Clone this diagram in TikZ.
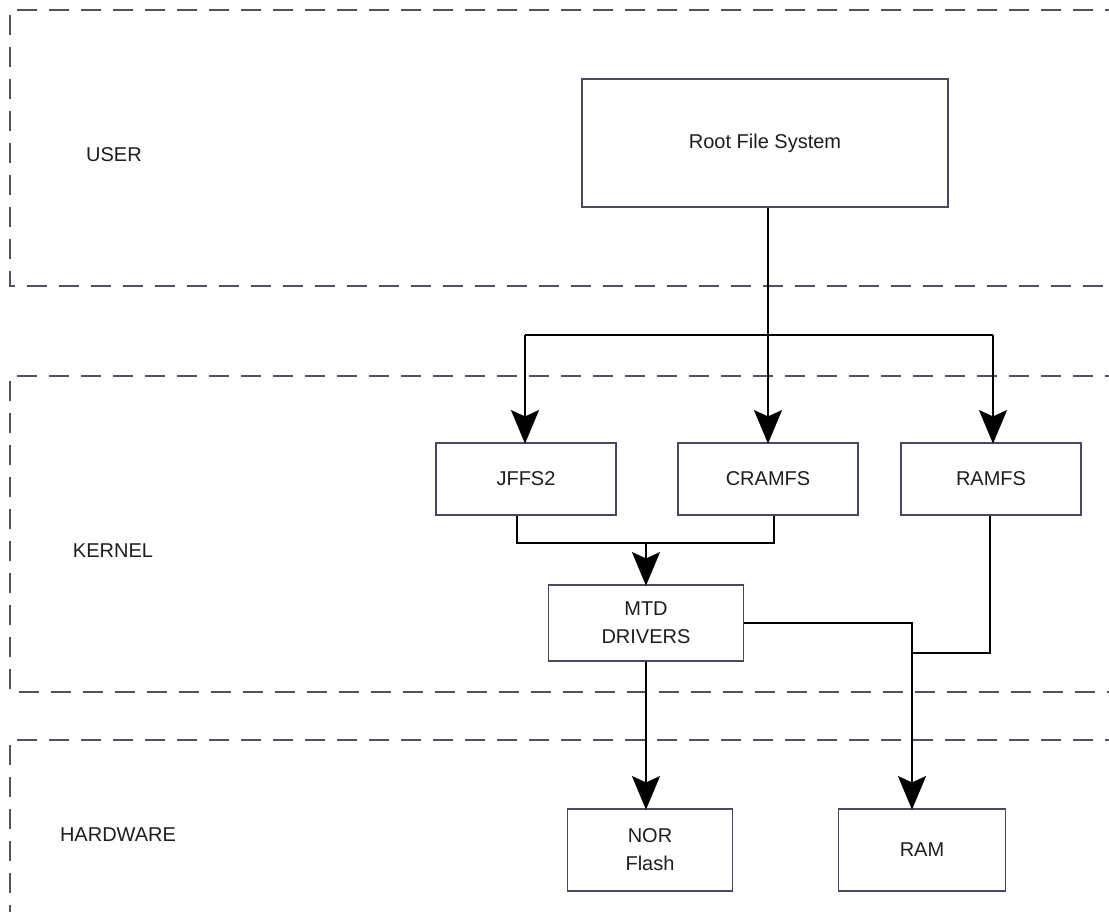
\documentclass[tikz,border=0pt]{standalone}
\usepackage{fontspec}
\setmainfont{Liberation Sans}
\definecolor{boxcol}{RGB}{72,72,100}
\definecolor{dashcol}{RGB}{80,80,105}
\definecolor{txtcol}{RGB}{30,30,30}
\begin{document}
\begin{tikzpicture}[x=1pt,y=-1pt,
  font=\fontsize{20}{30}\selectfont,
  blk/.style={draw=boxcol,line width=1.8pt,fill=white,text=txtcol,align=center,inner sep=0pt},
  layer/.style={draw=dashcol,line width=1.8pt,dash pattern=on 20pt off 12pt},
  conn/.style={draw=black,line width=1.8pt},
  lbl/.style={text=txtcol,inner sep=0pt}]
\tikzset{headdown/.pic={\filldraw[black,line width=1.2pt,line join=miter] (0,0) -- (-13,-31) -- (0,-25) -- (13,-31) -- cycle;}}
\useasboundingbox (0,0) rectangle (1109,912);
\fill[white] (0,0) rectangle (1109,912);
% layers
\draw[layer] (1125,10) -- (10,10) -- (10,286) -- (1125,286);
\draw[layer] (1125,376) -- (10,376) -- (10,692) -- (1125,692);
\draw[layer] (1125,740) -- (10,740) -- (10,925);
\node[lbl] (luser) at (114,155) {USER};
\node[lbl] (lkernel) at (113,551) {KERNEL};
\node[lbl] (lhw) at (118,835) {HARDWARE};
% blocks
\node[blk,minimum width=366pt,minimum height=128pt] (root) at (765,143) {Root File System};
\node[blk,minimum width=180pt,minimum height=72pt] (jffs2) at (526,479) {JFFS2};
\node[blk,minimum width=180pt,minimum height=72pt] (cramfs) at (768,479) {CRAMFS};
\node[blk,minimum width=180pt,minimum height=72pt] (ramfs) at (991,479) {RAMFS};
\node[blk,minimum width=195pt,minimum height=76pt] (mtd) at (646,623) {MTD\\[-2pt]DRIVERS};
\node[blk,minimum width=165pt,minimum height=82pt] (nor) at (650,850) {NOR\\[-2pt]Flash};
\node[blk,minimum width=167pt,minimum height=82pt] (ram) at (922,850) {RAM};
% connectors
\coordinate (split) at (769,335);
\draw[conn] (split -| 525,0) -- (split -| 993,0);
\draw[conn] (cramfs.north |- root.south) -- (cramfs.north) pic {headdown};
\draw[conn] (525,335) -- (525,0 |- jffs2.north) pic {headdown};
\draw[conn] (993,335) -- (993,0 |- ramfs.north) pic {headdown};
\coordinate (merge) at (646,543);
\draw[conn] ([xshift=-9pt]jffs2.south) |- (merge) -| ([xshift=6pt]cramfs.south);
\draw[conn] (merge) -- (mtd.north) pic {headdown};
\draw[conn] (mtd.south) -- (mtd.south |- nor.north) pic {headdown};
\coordinate (bend) at (912,623);
\draw[conn] (mtd.east) -- (bend) -- (bend |- ram.north) pic {headdown};
\coordinate (join) at (912,653);
\draw[conn] ([xshift=-1pt]ramfs.south) |- (join);
\end{tikzpicture}
\end{document}
